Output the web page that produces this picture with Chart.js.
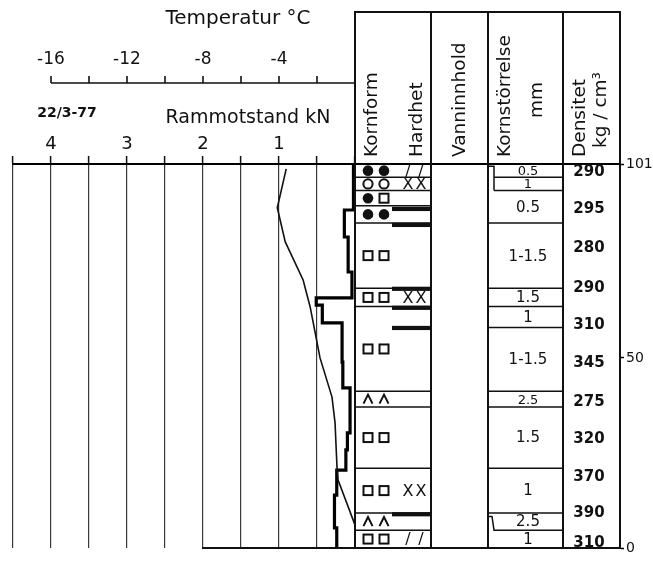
<!DOCTYPE html>
<html><head><meta charset="utf-8">
<script src="https://cdn.jsdelivr.net/npm/chart.js@4/dist/chart.umd.min.js"></script>
<style>html,body{margin:0;padding:0;background:#fff;}#wrap{width:653px;height:562px;}</style>
</head><body><div id="wrap"><canvas id="c" width="653" height="562"></canvas></div>
<script>
// ---- data ----
const ramTicks = [0, 0.5, 1, 1.5, 2, 2.5, 3, 3.5, 4, 4.5];
const ramTickLabels = ['', '', '1', '', '2', '', '3', '', '4', ''];
const tempTicks = [-16, -14, -12, -10, -8, -6, -4, -2];
const tempTickLabels = ['-16', '', '-12', '', '-8', '', '-4', ''];
const depthTicks = [0, 50, 101];

// temperature profile (°C) vs height (cm)
const tempHeight = [99.7, 89.5, 80.5, 70.5, 63.4, 50.0, 39.7, 32.9, 20.5, 17.9, 7.4, 6.0];
const tempValue  = [-3.62, -4.09, -3.67, -2.73, -2.36, -1.84, -1.21, -1.05, -0.94, -0.89, -0.10, 0.0];

// ram resistance (kN) – top height of each step (cm)
const ramTop   = [101, 88.9, 81.8, 72.6, 65.8, 63.9, 59.2, 48.9, 42.1, 30.3, 25.8, 20.5, 13.9, 5.3];
const ramValue = [0.02, 0.14, 0.09, 0.04, 0.51, 0.43, 0.17, 0.16, 0.065, 0.10, 0.12, 0.24, 0.27, 0.24];

// layers: grain form / hardness
const layerTop  = [101, 97.5, 94, 90, 85.5, 68.3, 63.5, 41.2, 37.1, 21, 9.2, 4.7];
const grainForm = ['●●', '○○', '●□', '●●', '□□', '□□', '□□', 'ΛΛ', '□□', '□□', 'ΛΛ', '□□'];
const hardness  = ['//', 'XX', '', '', '', 'XX', '', '', '', 'XX', '', '//'];
const hardBarHeight = [89.2, 85.0, 68.2, 63.2, 57.9, 8.9];

// grain size (mm)
const grainSizeTop = [101, 97.5, 94, 85.5, 68.3, 63.5, 58, 41.2, 37.1, 21, 9.2, 4.7];
const grainSize    = ['0.5', '1', '0.5', '1-1.5', '1.5', '1', '1-1.5', '2.5', '1.5', '1', '2.5', '1'];

// density (as written)
const densityHeight = [98.9, 89.2, 78.9, 68.4, 58.7, 48.7, 38.4, 28.7, 18.7, 9.2, 1.3];
const density       = [290, 295, 280, 290, 310, 345, 275, 320, 370, 390, 310];

const FONT = 'DejaVu Sans';
const RAM_MAX = 4.5, RAM_MIN = -3.487;   // negative part of the axis hosts the table
const T_PER_KN = 4;

function line(ctx, x1, y1, x2, y2) { ctx.beginPath(); ctx.moveTo(x1, y1); ctx.lineTo(x2, y2); ctx.stroke(); }

function drawSymbol(ctx, s, x, y) {
  ctx.lineWidth = 2;
  if (s === '●') { ctx.beginPath(); ctx.arc(x, y, 5.3, 0, Math.PI * 2); ctx.fill(); }
  else if (s === '○') { ctx.beginPath(); ctx.arc(x, y, 4.6, 0, Math.PI * 2); ctx.stroke(); }
  else if (s === '□') { ctx.strokeRect(x - 4.5, y - 4.5, 9, 9); }
  else if (s === 'Λ') { ctx.beginPath(); ctx.moveTo(x - 4.5, y + 4.5); ctx.lineTo(x, y - 4.5); ctx.lineTo(x + 4.5, y + 4.5); ctx.stroke(); }
}

const tablePlugin = {
  id: 'snowTable',
  afterDraw(chart) {
    const ctx = chart.ctx;
    const ys = chart.scales.y, xt = chart.scales.xT;
    const Y = h => ys.getPixelForValue(h);
    const bot = chart.chartArea.bottom;
    ctx.save();
    ctx.fillStyle = '#111'; ctx.strokeStyle = '#111';

    // ---- temperature axis ----
    const ty = 83;
    ctx.lineWidth = 1.6;
    line(ctx, xt.getPixelForValue(tempTicks[0]), ty, xt.getPixelForValue(0), ty);
    ctx.font = '17px "' + FONT + '"'; ctx.textAlign = 'center'; ctx.textBaseline = 'middle';
    tempTicks.forEach((v, i) => {
      const x = xt.getPixelForValue(v);
      line(ctx, x, ty, x, ty - 7);
      if (tempTickLabels[i]) ctx.fillText(tempTickLabels[i], x, 60);
    });
    ctx.font = '20px "' + FONT + '"';
    ctx.fillText('Temperatur °C', 238, 19);
    ctx.font = '19px "' + FONT + '"';
    ctx.fillText('Rammotstand kN', 248, 118);
    ctx.font = 'bold 14px "' + FONT + '"';
    ctx.fillText('22/3-77', 67, 113);

    // ---- table frame ----
    const cols = [355, 431, 488, 563, 620];
    ctx.lineWidth = 2;
    line(ctx, cols[0] - 1, 12, cols[4] + 1, 12);
    cols.forEach(x => line(ctx, x, 12, x, bot));
    line(ctx, 202, bot, cols[4], bot);

    // header texts (rotated)
    ctx.font = '18.5px "' + FONT + '"';
    ctx.textBaseline = 'middle';
    const vtext = (t, x, y, align) => {
      ctx.save(); ctx.translate(x, y); ctx.rotate(-Math.PI / 2);
      ctx.textAlign = align; ctx.fillText(t, 0, 0); ctx.restore();
    };
    vtext('Kornform', 372, 157, 'left');
    vtext('Hardhet', 417, 157, 'left');
    vtext('Vanninnhold', 460, 157, 'left');
    vtext('Kornstörrelse', 505, 157, 'left');
    vtext('mm', 537, 100, 'center');
    vtext('Densitet', 580, 157, 'left');
    vtext('kg / cm³', 601, 110, 'center');

    // ---- grain form / hardness column ----
    ctx.lineWidth = 1.5;
    layerTop.forEach((h, i) => { if (i > 0) line(ctx, cols[0], Y(h), cols[1], Y(h)); });
    hardBarHeight.forEach(h => ctx.fillRect(392, Y(h) - 2, cols[1] - 392, 4.2));
    ctx.font = '16px "' + FONT + '"'; ctx.textAlign = 'center';
    layerTop.forEach((h, i) => {
      const next = i + 1 < layerTop.length ? layerTop[i + 1] : 0;
      const cy = (Y(h) + Y(next)) / 2;
      const g = Array.from(grainForm[i]);
      drawSymbol(ctx, g[0], 368, cy);
      drawSymbol(ctx, g[1], 384, cy);
      const hd = Array.from(hardness[i]);
      if (hd.length) { ctx.fillText(hd[0], 408, cy + 1); ctx.fillText(hd[1], 421, cy + 1); }
    });

    // ---- grain size column ----
    ctx.lineWidth = 1.5;
    grainSizeTop.forEach((h, i) => {
      if (i === 0) return;
      const y = Y(h);
      if (h === 97.5 || h === 94) line(ctx, 494, y, cols[3], y);
      else if (h === 4.7) {
        ctx.beginPath(); ctx.moveTo(cols[2], Y(8.3)); ctx.lineTo(492, Y(8.3));
        ctx.lineTo(494, y); ctx.lineTo(cols[3], y); ctx.stroke();
      } else line(ctx, cols[2], y, cols[3], y);
    });
    ctx.beginPath(); ctx.moveTo(cols[2], Y(100.4)); ctx.lineTo(494, Y(100.4)); ctx.lineTo(494, Y(94)); ctx.stroke();
    ctx.textAlign = 'center'; ctx.textBaseline = 'middle';
    grainSizeTop.forEach((h, i) => {
      const next = i + 1 < grainSizeTop.length ? grainSizeTop[i + 1] : 0;
      const cy = (Y(h) + Y(next)) / 2;
      ctx.font = ((Y(next) - Y(h)) < 16 ? '13px "' : '15px "') + FONT + '"';
      ctx.fillText(grainSize[i], 528, cy + 1);
    });

    // ---- density column ----
    ctx.font = 'bold 15px "' + FONT + '"';
    density.forEach((d, i) => ctx.fillText(String(d), 589, Y(densityHeight[i])));
    ctx.restore();
  }
};

new Chart(document.getElementById('c'), {
  type: 'line',
  data: {
    datasets: [
      {
        label: 'Temperatur',
        data: tempHeight.map((h, i) => ({ x: tempValue[i], y: h })),
        xAxisID: 'xT', yAxisID: 'y',
        borderColor: '#111', borderWidth: 1.6, pointRadius: 0, fill: false, tension: 0
      },
      {
        label: 'Rammotstand',
        data: ramTop.map((h, i) => ({ x: ramValue[i], y: h })).concat([{ x: ramValue[ramValue.length - 1], y: 0 }]),
        xAxisID: 'x', yAxisID: 'y',
        borderColor: '#000', borderWidth: 3.2, pointRadius: 0, fill: false, stepped: 'after'
      }
    ]
  },
  options: {
    responsive: false, animation: false, events: [],
    layout: { padding: { left: 13, right: 0, top: 0, bottom: 14 } },
    plugins: { legend: { display: false }, tooltip: { enabled: false } },
    scales: {
      x: {
        type: 'linear', position: 'top', reverse: true, min: RAM_MIN, max: RAM_MAX,
        afterBuildTicks: s => { s.ticks = ramTicks.map(v => ({ value: v })); },
        afterFit: s => { s.height = 164; },
        grid: { color: '#3a3a3a', lineWidth: 1.2, tickLength: 8, drawOnChartArea: true, drawTicks: true, tickColor: '#111', tickWidth: 1.5 },
        border: { display: true, color: '#000', width: 2 },
        ticks: { padding: 1, autoSkip: false, maxRotation: 0, color: '#111', font: { family: FONT, size: 18 },
          callback: (v, i) => ramTickLabels[i] }
      },
      xT: {
        type: 'linear', display: false, min: -RAM_MAX * T_PER_KN, max: -RAM_MIN * T_PER_KN
      },
      y: {
        type: 'linear', position: 'right', min: 0, max: 101,
        afterBuildTicks: s => { s.ticks = depthTicks.map(v => ({ value: v })); },
        afterFit: s => { s.width = 33; },
        grid: { drawOnChartArea: false, tickLength: 4, color: '#000', tickWidth: 1.5 },
        border: { display: true, color: '#000', width: 2 },
        ticks: { padding: 2, autoSkip: false, color: '#111', font: { family: FONT, size: 14 } }
      }
    }
  },
  plugins: [tablePlugin]
});
</script></body></html>
